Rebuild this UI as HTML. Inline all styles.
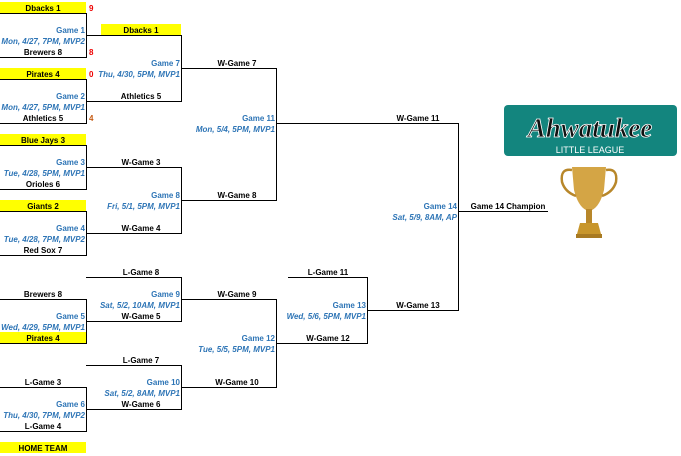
<!DOCTYPE html>
<html><head><meta charset="utf-8"><style>
html,body{margin:0;padding:0;background:#fff;width:681px;height:456px;overflow:hidden}
text{font-family:"Liberation Sans",Arial,sans-serif;font-size:8px;font-weight:bold}
.b{fill:#2e75b6}.i{fill:#2e75b6;font-style:italic}.k{fill:#000}
.c{text-anchor:middle}.e{text-anchor:end}
</style></head><body>
<svg width="681" height="456" xmlns="http://www.w3.org/2000/svg">
<g fill="#ffff00">
<rect x="0" y="2" width="86" height="11"/>
<rect x="0" y="68" width="86" height="11"/>
<rect x="0" y="134" width="86" height="11"/>
<rect x="0" y="200" width="86" height="11"/>
<rect x="101" y="24" width="80" height="11"/>
<rect x="0" y="332" width="86" height="11"/>
<rect x="0" y="442" width="86" height="11"/>
</g>
<g stroke="#000" stroke-width="1" fill="none">
<polyline points="0,13.5 86.5,13.5 86.5,57.5 0,57.5"/>
<polyline points="0,79.5 86.5,79.5 86.5,123.5 0,123.5"/>
<polyline points="0,145.5 86.5,145.5 86.5,189.5 0,189.5"/>
<polyline points="0,211.5 86.5,211.5 86.5,255.5 0,255.5"/>
<polyline points="86,35.5 181.5,35.5 181.5,101.5 86,101.5"/>
<polyline points="86,167.5 181.5,167.5 181.5,233.5 86,233.5"/>
<polyline points="181,68.5 276.5,68.5 276.5,200.5 181,200.5"/>
<polyline points="276,123.5 458.5,123.5 458.5,310.5 367,310.5"/>
<line x1="458" y1="211.5" x2="548" y2="211.5"/>
<polyline points="86,277.5 181.5,277.5 181.5,321.5 86,321.5"/>
<polyline points="0,299.5 86.5,299.5 86.5,343.5 0,343.5"/>
<polyline points="181,299.5 276.5,299.5 276.5,387.5 181,387.5"/>
<polyline points="86,365.5 181.5,365.5 181.5,409.5 86,409.5"/>
<polyline points="0,387.5 86.5,387.5 86.5,431.5 0,431.5"/>
<polyline points="288,277.5 367.5,277.5 367.5,343.5 276,343.5"/>
<line x1="276.5" y1="343" x2="276.5" y2="387"/>
</g>
<g class="k">
<text x="43" y="11" class="c">Dbacks 1</text>
<text x="43" y="55" class="c">Brewers 8</text>
<text x="43" y="77" class="c">Pirates 4</text>
<text x="43" y="121" class="c">Athletics 5</text>
<text x="43" y="143" class="c">Blue Jays 3</text>
<text x="43" y="187" class="c">Orioles 6</text>
<text x="43" y="209" class="c">Giants 2</text>
<text x="43" y="253" class="c">Red Sox 7</text>
<text x="141" y="33" class="c">Dbacks 1</text>
<text x="141" y="99" class="c">Athletics 5</text>
<text x="141" y="165" class="c">W-Game 3</text>
<text x="141" y="231" class="c">W-Game 4</text>
<text x="237" y="66" class="c">W-Game 7</text>
<text x="237" y="198" class="c">W-Game 8</text>
<text x="418" y="121" class="c">W-Game 11</text>
<text x="508" y="209" class="c">Game 14 Champion</text>
<text x="141" y="275" class="c">L-Game 8</text>
<text x="43" y="297" class="c">Brewers 8</text>
<text x="141" y="319" class="c">W-Game 5</text>
<text x="43" y="341" class="c">Pirates 4</text>
<text x="237" y="297" class="c">W-Game 9</text>
<text x="141" y="363" class="c">L-Game 7</text>
<text x="43" y="385" class="c">L-Game 3</text>
<text x="237" y="385" class="c">W-Game 10</text>
<text x="141" y="407" class="c">W-Game 6</text>
<text x="43" y="429" class="c">L-Game 4</text>
<text x="43" y="451" class="c">HOME TEAM</text>
<text x="328" y="275" class="c">L-Game 11</text>
<text x="328" y="341" class="c">W-Game 12</text>
<text x="418" y="308" class="c">W-Game 13</text>
</g>
<g>
<text x="89" y="11" fill="#e00">9</text>
<text x="89" y="55" fill="#e00">8</text>
<text x="89" y="77" fill="#e00">0</text>
<text x="89" y="121" fill="#c55a11">4</text>
</g>
<g class="e">
<text x="85" y="33" class="b e">Game 1</text>
<text x="85" y="44" class="i e">Mon, 4/27, 7PM, MVP2</text>
<text x="85" y="99" class="b e">Game 2</text>
<text x="85" y="110" class="i e">Mon, 4/27, 5PM, MVP1</text>
<text x="85" y="165" class="b e">Game 3</text>
<text x="85" y="176" class="i e">Tue, 4/28, 5PM, MVP1</text>
<text x="85" y="231" class="b e">Game 4</text>
<text x="85" y="242" class="i e">Tue, 4/28, 7PM, MVP2</text>
<text x="180" y="66" class="b e">Game 7</text>
<text x="180" y="77" class="i e">Thu, 4/30, 5PM, MVP1</text>
<text x="180" y="198" class="b e">Game 8</text>
<text x="180" y="209" class="i e">Fri, 5/1, 5PM, MVP1</text>
<text x="275" y="121" class="b e">Game 11</text>
<text x="275" y="132" class="i e">Mon, 5/4, 5PM, MVP1</text>
<text x="457" y="209" class="b e">Game 14</text>
<text x="457" y="220" class="i e">Sat, 5/9, 8AM, AP</text>
<text x="180" y="297" class="b e">Game 9</text>
<text x="180" y="308" class="i e">Sat, 5/2, 10AM, MVP1</text>
<text x="85" y="319" class="b e">Game 5</text>
<text x="85" y="330" class="i e">Wed, 4/29, 5PM, MVP1</text>
<text x="275" y="341" class="b e">Game 12</text>
<text x="275" y="352" class="i e">Tue, 5/5, 5PM, MVP1</text>
<text x="180" y="385" class="b e">Game 10</text>
<text x="180" y="396" class="i e">Sat, 5/2, 8AM, MVP1</text>
<text x="85" y="407" class="b e">Game 6</text>
<text x="85" y="418" class="i e">Thu, 4/30, 7PM, MVP2</text>
<text x="366" y="308" class="b e">Game 13</text>
<text x="366" y="319" class="i e">Wed, 5/6, 5PM, MVP1</text>
</g>
<rect x="504" y="105" width="173" height="51" rx="4" fill="#13857e"/>
<text x="590" y="137" text-anchor="middle" style="font-family:'Liberation Serif',serif;font-size:27px;font-style:italic;font-weight:bold" fill="#111" stroke="#fff" stroke-width="0.8">Ahwatukee</text>
<text x="590" y="153" text-anchor="middle" style="font-size:9px;font-weight:normal" fill="#fff">LITTLE LEAGUE</text>
<g fill="#c8962c">
<path d="M572,167 L606,167 L604,190 Q600,206 592,210 L586,210 Q578,206 574,190 Z" fill="#d4a545"/>
<path d="M572,170 Q560,168 562,182 Q565,192 576,196" fill="none" stroke="#b8872a" stroke-width="2.5"/>
<path d="M606,170 Q618,168 616,182 Q613,192 602,196" fill="none" stroke="#b8872a" stroke-width="2.5"/>
<rect x="586" y="209" width="6" height="14" fill="#b8872a"/>
<path d="M580,223 L598,223 L601,234 L577,234 Z" fill="#c8962c"/>
<rect x="576" y="234" width="26" height="4" fill="#a87a22"/>
</g>
</svg>
</body></html>
